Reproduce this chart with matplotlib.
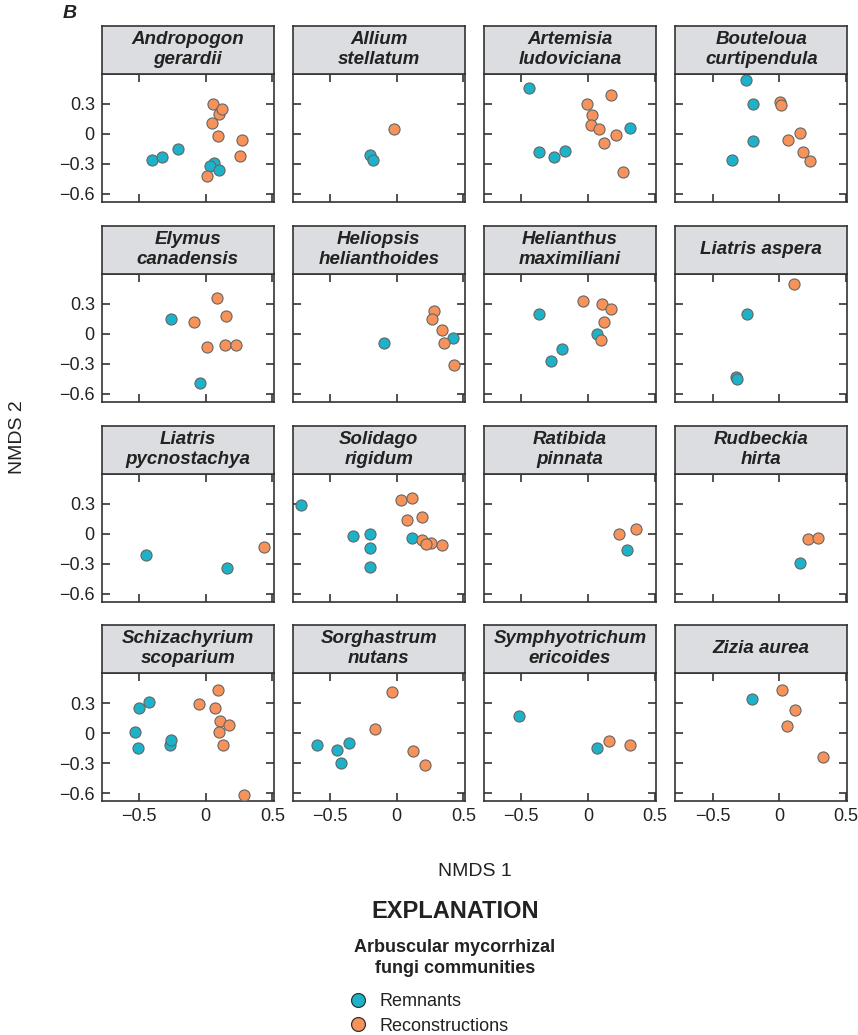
import matplotlib
matplotlib.use('Agg')
import matplotlib.pyplot as plt
from matplotlib.lines import Line2D

plt.rcParams['font.family'] = ['Liberation Sans', 'DejaVu Sans']

#panel titles (species)
species = ['Andropogon\ngerardii', 'Allium\nstellatum', 'Artemisia\nludoviciana', 'Bouteloua\ncurtipendula',
           'Elymus\ncanadensis', 'Heliopsis\nhelianthoides', 'Helianthus\nmaximiliani', 'Liatris aspera',
           'Liatris\npycnostachya', 'Solidago\nrigidum', 'Ratibida\npinnata', 'Rudbeckia\nhirta',
           'Schizachyrium\nscoparium', 'Sorghastrum\nnutans', 'Symphyotrichum\nericoides', 'Zizia aurea']

#remnant points (NMDS1, NMDS2) per panel
rem_x = [
    [-0.40, -0.33, -0.21, 0.064, 0.03, 0.10],
    [-0.204, -0.18],
    [-0.446, -0.37, -0.254, -0.17, 0.315],
    [-0.249, -0.20, -0.20, -0.355],
    [-0.264, -0.044],
    [-0.099, 0.424],
    [-0.365, -0.197, -0.28, 0.064],
    [-0.246, -0.328, -0.32],
    [-0.448, 0.163],
    [-0.717, -0.328, -0.20, -0.204, -0.204, 0.116],
    [0.293],
    [0.155],
    [-0.50, -0.424, -0.527, -0.507, -0.266, -0.259],
    [-0.596, -0.446, -0.419, -0.36],
    [-0.52, 0.069],
    [-0.204],
]
rem_y = [
    [-0.26, -0.23, -0.15, -0.29, -0.32, -0.36],
    [-0.21, -0.26],
    [0.464, -0.18, -0.235, -0.175, 0.056],
    [0.536, 0.298, -0.066, -0.26],
    [0.146, -0.487],
    [-0.089, -0.036],
    [0.205, -0.152, -0.268, 0.003],
    [0.202, -0.427, -0.454],
    [-0.209, -0.338],
    [0.291, -0.017, -0.003, -0.139, -0.334, -0.043],
    [-0.162],
    [-0.288],
    [0.255, 0.311, 0.013, -0.149, -0.116, -0.073],
    [-0.119, -0.172, -0.298, -0.096],
    [0.166, -0.146],
    [0.341],
]

#reconstruction points
rec_x = [
    [0.057, 0.10, 0.12, 0.047, 0.094, 0.27, 0.26, 0.01],
    [-0.017],
    [-0.007, 0.03, 0.17, 0.025, 0.08, 0.21, 0.118, 0.26],
    [0.007, 0.015, 0.158, 0.062, 0.177, 0.227],
    [0.084, -0.086, 0.155, 0.012, 0.148, 0.229],
    [0.278, 0.264, 0.337, 0.355, 0.429],
    [-0.034, 0.108, 0.172, 0.12, 0.10],
    [0.108],
    [0.438],
    [0.034, 0.111, 0.074, 0.19, 0.19, 0.259, 0.219, 0.337],
    [0.234, 0.362],
    [0.217, 0.291],
    [-0.049, 0.091, 0.071, 0.106, 0.175, 0.103, 0.133, 0.288],
    [-0.032, -0.16, 0.123, 0.212],
    [0.155, 0.318],
    [0.02, 0.118, 0.057, 0.328],
]
rec_y = [
    [0.30, 0.20, 0.245, 0.106, -0.02, -0.063, -0.225, -0.42],
    [0.053],
    [0.295, 0.19, 0.387, 0.086, 0.046, -0.007, -0.086, -0.384],
    [0.318, 0.285, 0.007, -0.06, -0.18, -0.27],
    [0.358, 0.119, 0.182, -0.126, -0.106, -0.106],
    [0.235, 0.152, 0.036, -0.089, -0.311],
    [0.328, 0.301, 0.255, 0.119, -0.063],
    [0.503],
    [-0.126],
    [0.341, 0.364, 0.136, 0.172, -0.06, -0.089, -0.099, -0.113],
    [0.003, 0.053],
    [-0.046, -0.036],
    [0.288, 0.43, 0.248, 0.116, 0.076, 0.007, -0.123, -0.619],
    [0.414, 0.036, -0.179, -0.315],
    [-0.079, -0.123],
    [0.43, 0.232, 0.066, -0.238],
]

x_ticks = [-0.5, 0, 0.5]
x_labels = ['\u22120.5', '0', '0.5']
y_ticks = [0.3, 0, -0.3, -0.6]
y_labels = ['0.3', '0', '\u22120.3', '\u22120.6']

blue = '#1cb2c9'
orange = '#f6925a'
edge = '#666666'
strip_gray = '#dcdde0'
dark = '#333333'
txt = '#222222'

W, H = 858, 1035
fig = plt.figure(figsize=(W/100, H/100), dpi=100)

col_left = [101.7, 292.7, 484, 675.3]
row_top = [74, 274, 474, 673]
pw = 172
ph = 128
sh = 48.5

for i in range(16):
    r = i // 4
    c = i % 4
    l = col_left[c]
    t = row_top[r]
    ax = fig.add_axes([l/W, 1-(t+ph)/H, pw/W, ph/H])
    ax.scatter(rem_x[i], rem_y[i], s=64, c=blue, edgecolors=edge, linewidths=0.8, zorder=3, clip_on=False)
    ax.scatter(rec_x[i], rec_y[i], s=64, c=orange, edgecolors=edge, linewidths=0.8, zorder=3, clip_on=False)
    ax.set_xlim(-0.78, 0.51)
    ax.set_ylim(-0.68, 0.6)
    ax.set_xticks(x_ticks)
    ax.set_yticks(y_ticks)
    ax.tick_params(direction='in', length=6, width=1.2, color=dark, top=True, right=True,
                   labelsize=13, labelcolor=txt, pad=5)
    if c == 0:
        ax.set_yticklabels(y_labels)
    else:
        ax.set_yticklabels([])
    if r == 3:
        ax.set_xticklabels(x_labels)
    else:
        ax.set_xticklabels([])
    for sp in ax.spines.values():
        sp.set_color(dark)
        sp.set_linewidth(1.2)

    #strip with species name
    sax = fig.add_axes([l/W, 1-t/H, pw/W, sh/H])
    sax.set_facecolor(strip_gray)
    sax.set_xticks([])
    sax.set_yticks([])
    for sp in sax.spines.values():
        sp.set_color(dark)
        sp.set_linewidth(1.2)
    sax.text(0.5, 0.5, species[i], ha='center', va='center', fontsize=13.5, fontweight='bold',
             fontstyle='italic', color=txt, linespacing=1.2, transform=sax.transAxes)

fig.text(70/W, 1-13/H, 'B', fontsize=14, fontweight='bold', fontstyle='italic', ha='center', va='center', color=txt)
fig.text(18/W, 1-437/H, 'NMDS 2', fontsize=14, rotation=90, ha='center', va='center', color=txt)
fig.text(475/W, 1-871/H, 'NMDS 1', fontsize=14, ha='center', va='center', color=txt)
fig.text(455/W, 1-911/H, 'EXPLANATION', fontsize=17, fontweight='bold', ha='center', va='center', color=txt)
fig.text(455/W, 1-958/H, 'Arbuscular mycorrhizal\nfungi communities', fontsize=13, fontweight='bold',
         ha='center', va='center', color=txt, linespacing=1.35)

#legend
handles = [Line2D([], [], marker='o', ls='', markersize=10, markerfacecolor=blue, markeredgecolor='#333333', markeredgewidth=0.9),
           Line2D([], [], marker='o', ls='', markersize=10, markerfacecolor=orange, markeredgecolor='#333333', markeredgewidth=0.9)]
fig.legend(handles, ['Remnants', 'Reconstructions'], loc='upper left', bbox_to_anchor=(347/W, 1-993/H),
           frameon=False, fontsize=13, handletextpad=0.6, labelspacing=0.42, borderpad=0, borderaxespad=0,
           handlelength=1.2, labelcolor=txt)

fig.savefig('out.png', dpi=100)
